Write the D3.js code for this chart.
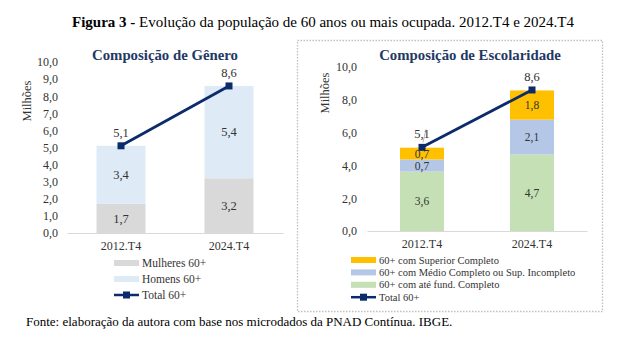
<!DOCTYPE html>
<html>
<head>
<meta charset="utf-8">
<script src="https://cdn.jsdelivr.net/npm/d3@7"></script>
<style>
  body { margin: 0; background: #fff; }
</style>
</head>
<body>
<script>
// data
var categories = ["2012.T4", "2024.T4"];
var mulheres = [1.7, 3.2];
var homens = [3.4, 5.4];
var total = [5.1, 8.6];
var ateFund = [3.62, 4.66];
var medio = [0.74, 2.13];
var superior = [0.72, 1.78];
var ticksGenero = [0, 1, 2, 3, 4, 5, 6, 7, 8, 9, 10];
var ticksEscol = [0, 2, 4, 6, 8, 10];

var navy = "#0C2B6B";
var SERIF = "'Liberation Serif', 'DejaVu Serif', serif";
var fmt = function (v) { return d3.format(".1f")(v).replace(".", ","); };

main();

function main() {
  svg = d3.select("body").append("svg")
    .attr("width", 638)
    .attr("height", 345)
    .style("font-family", SERIF);
  addFigureTitle();
  drawBox();
  drawChart({
    left: 67, right: 283, top: 62, bottom: 233,
    title: "Composição de Gênero", titleX: 165, titleY: 60,
    ticks: ticksGenero, labelX: 58, ylabelX: 31, ylabelY: 101,
    barWidth: 49, valueFont: 12.5,
    series: [
      { name: "Mulheres 60+", values: mulheres, color: "#D9D9D9" },
      { name: "Homens 60+", values: homens, color: "#DEEBF7" }
    ],
    reverseLegend: false,
    legendFont: 11.5,
    legend: { x: 114, y: 263, step: 16, swW: 25, textX: 142 }
  });
  drawChart({
    left: 367, right: 587, top: 67, bottom: 231,
    title: "Composição de Escolaridade", titleX: 470, titleY: 60,
    ticks: ticksEscol, labelX: 357, ylabelX: 329, ylabelY: 93,
    barWidth: 44, valueFont: 11.5,
    series: [
      { name: "60+ com até fund. Completo", values: ateFund, color: "#C5E0B4" },
      { name: "60+ com Médio Completo ou Sup. Incompleto", values: medio, color: "#B4C7E7" },
      { name: "60+ com Superior Completo", values: superior, color: "#FFC000" }
    ],
    reverseLegend: true,
    leader: true,
    legendFont: 10.5,
    legend: { x: 351, y: 260, step: 12.4, swW: 25, textX: 379 }
  });
  addSource();
  svg.selectAll("text").style("font-family", SERIF);
}

function addFigureTitle() {
  var t = svg.append("text")
    .attr("x", 323)
    .attr("y", 27)
    .attr("text-anchor", "middle")
    .style("font-size", "15px")
    .attr("fill", "#000");
  t.append("tspan").style("font-weight", "bold").text("Figura 3 - ");
  t.append("tspan").text("Evolução da população de 60 anos ou mais ocupada. 2012.T4 e 2024.T4");
}

function drawBox() {
  svg.append("rect")
    .attr("x", 297.5).attr("y", 40.5)
    .attr("width", 305).attr("height", 271)
    .attr("fill", "none")
    .attr("stroke", "#BFBFBF")
    .attr("stroke-width", 1.3)
    .attr("stroke-dasharray", "1.5,1.5");
}

function drawChart(c) {
  var g = svg.append("g");
  var x = d3.scaleBand().domain(categories).range([c.left, c.right]);
  var y = d3.scaleLinear().domain([0, 10]).range([c.bottom, c.top]);

  g.append("text")
    .attr("x", c.titleX).attr("y", c.titleY)
    .attr("text-anchor", "middle")
    .style("font-size", "14.8px")
    .style("font-weight", "bold")
    .attr("fill", "#1F3864")
    .text(c.title);

  // y tick labels
  var yAxis = d3.axisLeft(y).tickValues(c.ticks).tickFormat(fmt).tickSize(0).tickPadding(0);
  var ya = g.append("g").attr("transform", "translate(" + c.labelX + ",0)").call(yAxis);
  ya.select(".domain").remove();
  ya.selectAll("text")
    .style("font-size", "12px")
    .attr("fill", "#333");

  g.append("text")
    .attr("transform", "translate(" + c.ylabelX + "," + c.ylabelY + ") rotate(-90)")
    .attr("text-anchor", "middle")
    .style("font-size", "12.5px")
    .attr("fill", "#333")
    .text("Milhões");

  // stacked bars
  var rows = categories.map(function (cat, i) {
    var r = { cat: cat };
    c.series.forEach(function (s) { r[s.name] = s.values[i]; });
    return r;
  });
  var stack = d3.stack().keys(c.series.map(function (s) { return s.name; }))(rows);
  var off = (x.bandwidth() - c.barWidth) / 2;

  stack.forEach(function (layer, li) {
    var s = c.series[li];
    g.selectAll(null).data(layer).enter().append("rect")
      .attr("x", function (d) { return x(d.data.cat) + off; })
      .attr("width", c.barWidth)
      .attr("y", function (d) { return y(d[1]); })
      .attr("height", function (d) { return y(d[0]) - y(d[1]); })
      .attr("fill", s.color);
    g.selectAll(null).data(layer).enter().append("text")
      .attr("x", function (d) { return x(d.data.cat) + x.bandwidth() / 2; })
      .attr("y", function (d) { return (y(d[0]) + y(d[1])) / 2; })
      .attr("dy", "0.35em")
      .attr("text-anchor", "middle")
      .style("font-size", c.valueFont + "px")
      .attr("fill", "#333")
      .text(function (d) { return fmt(d[1] - d[0]); });
  });

  // baseline
  var xa = g.append("g").attr("transform", "translate(0," + c.bottom + ")")
    .call(d3.axisBottom(x).tickSize(0).tickPadding(8));
  xa.select(".domain").attr("stroke", "#D9D9D9");
  xa.selectAll("text")
    .style("font-size", "12px")
    .attr("fill", "#333");

  // total line
  var cx = function (d, i) { return x(categories[i]) + x.bandwidth() / 2; };
  var line = d3.line().x(cx).y(function (d) { return y(d); });
  g.append("path").datum(total)
    .attr("d", line)
    .attr("fill", "none")
    .attr("stroke", navy)
    .attr("stroke-width", 2.8);
  g.selectAll(null).data(total).enter().append("rect")
    .attr("x", function (d, i) { return cx(d, i) - 3.5; })
    .attr("y", function (d) { return y(d) - 3.5; })
    .attr("width", 7).attr("height", 7)
    .attr("fill", navy);
  if (c.leader) {
    g.append("line")
      .attr("x1", cx(total[0], 0) + 4).attr("y1", y(total[0]) - 18)
      .attr("x2", cx(total[0], 0) + 1).attr("y2", y(total[0]) - 5)
      .attr("stroke", "#A6A6A6").attr("stroke-width", 0.8);
  }
  g.selectAll(null).data(total).enter().append("text")
    .attr("x", function (d, i) { return cx(d, i); })
    .attr("y", function (d) { return y(d) - 9; })
    .attr("text-anchor", "middle")
    .style("font-size", "12.5px")
    .attr("fill", "#333")
    .text(fmt);

  // legend
  var L = c.legend;
  var items = c.reverseLegend ? c.series.slice().reverse() : c.series.slice();
  items.forEach(function (s, i) {
    var yy = L.y + i * L.step;
    g.append("rect")
      .attr("x", L.x).attr("y", yy - 3)
      .attr("width", L.swW).attr("height", 6)
      .attr("fill", s.color);
    g.append("text")
      .attr("x", L.textX).attr("y", yy + 3.5)
      .style("font-size", c.legendFont + "px")
      .attr("fill", "#333")
      .text(s.name);
  });
  var ty = L.y + items.length * L.step;
  g.append("line")
    .attr("x1", L.x).attr("x2", L.x + L.swW)
    .attr("y1", ty).attr("y2", ty)
    .attr("stroke", navy).attr("stroke-width", 2.5);
  g.append("rect")
    .attr("x", L.x + L.swW / 2 - 3.5).attr("y", ty - 3.5)
    .attr("width", 7).attr("height", 7)
    .attr("fill", navy);
  g.append("text")
    .attr("x", L.textX).attr("y", ty + 3.5)
    .style("font-size", c.legendFont + "px")
    .attr("fill", "#333")
    .text("Total 60+");
}

function addSource() {
  svg.append("text")
    .attr("x", 26).attr("y", 326)
    .style("font-size", "13px")
    .attr("fill", "#000")
    .text("Fonte: elaboração da autora com base nos microdados da PNAD Contínua. IBGE.");
}
</script>
</body>
</html>
